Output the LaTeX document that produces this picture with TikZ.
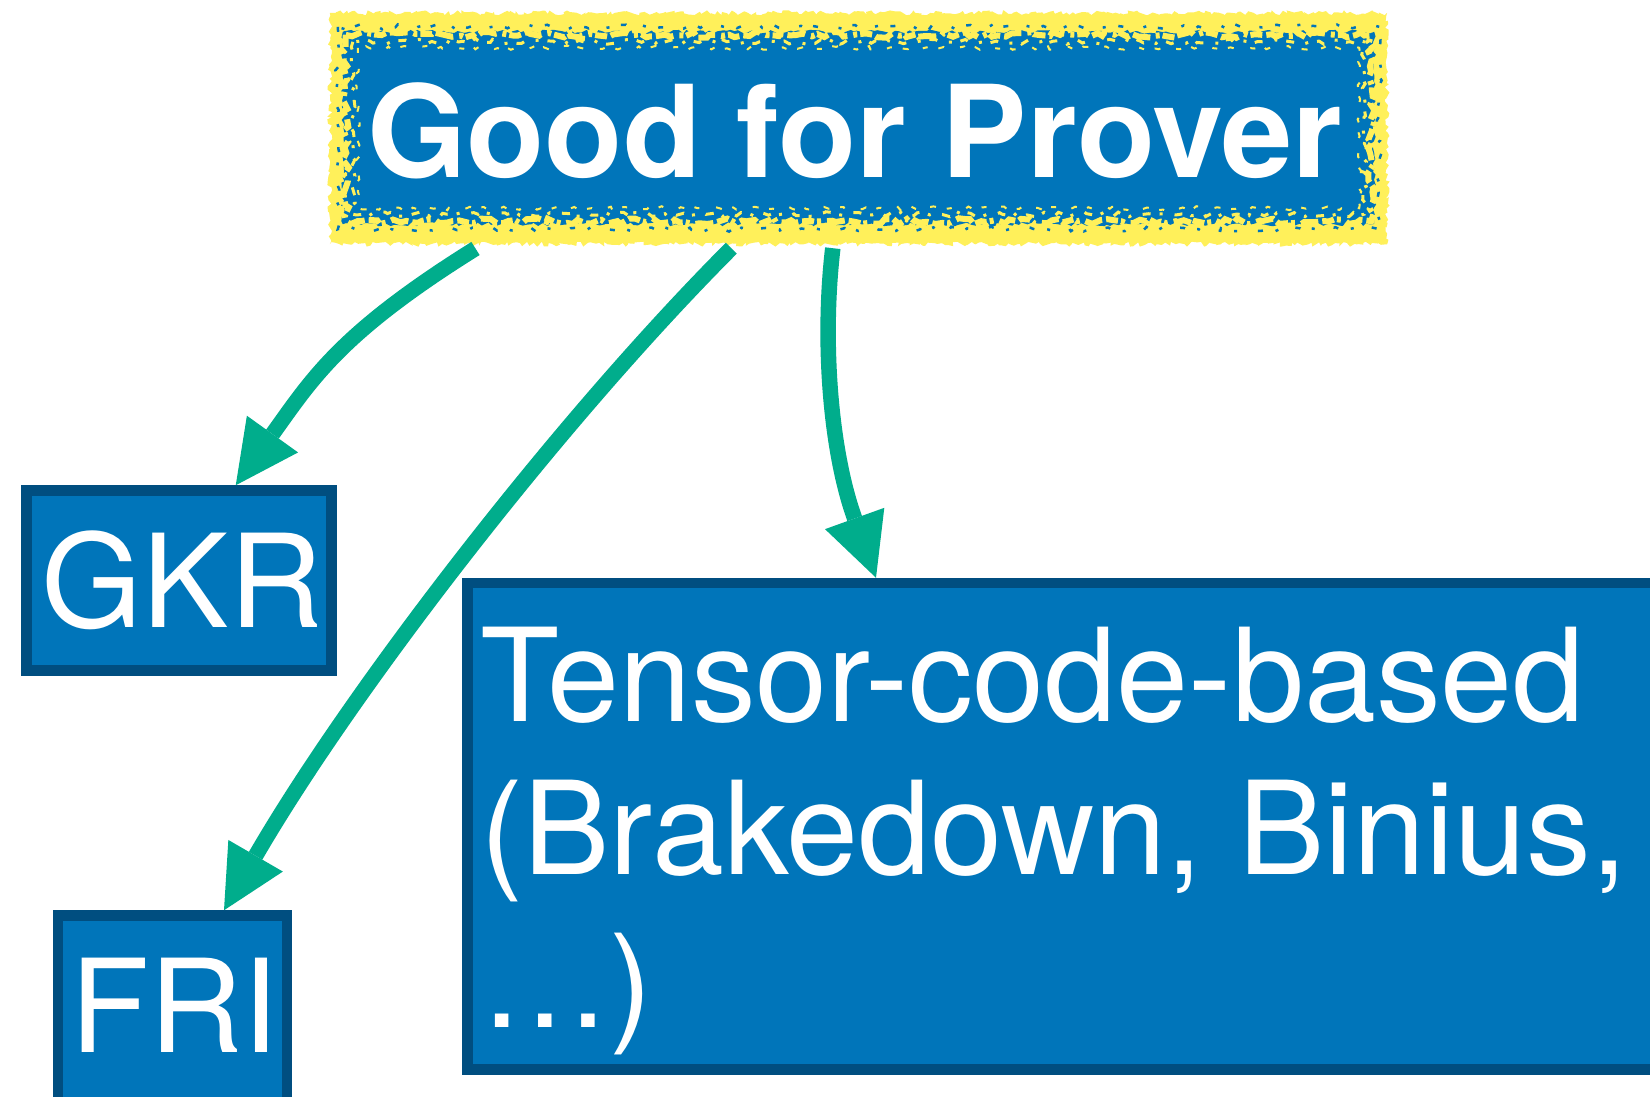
\documentclass[tikz,border=0pt]{standalone}
\usepackage{fontspec}
\setmainfont{TeX Gyre Heros}
\usetikzlibrary{arrows.meta,decorations.pathmorphing}

\definecolor{boxfill}{RGB}{0,117,186}
\definecolor{boxedge}{RGB}{0,78,128}
\definecolor{linkgreen}{RGB}{0,173,140}
\definecolor{marker}{RGB}{255,240,90}

\begin{document}
\begin{tikzpicture}[x=1pt,y=-1pt,
  box/.style={rectangle, draw=boxedge, fill=boxfill, line width=10.5pt, inner sep=0pt},
  headbox/.style={rectangle, inner sep=0pt, minimum width=1015pt, minimum height=180pt},
  txt/.style={text=white, inner sep=0pt, anchor=base west, font=\fontsize{129.5}{153}\selectfont},
  link/.style={draw=linkgreen, line width=15.5pt, -{Triangle[length=63pt,width=63pt,line width=0pt]}},
  rough/.style={decorate, decoration={random steps, segment length=#1, amplitude=#1/2}},
]
\pgfmathsetseed{7}
\clip (0,0) rectangle (1650,1096);
\fill[white] (0,0) rectangle (1650,1096);

% highlighted heading: yellow marker scribble round a blue box
\node[headbox] (gfp) at (858.5,128) {};
\fill[marker, decorate, decoration={random steps, segment length=3pt, amplitude=2.5pt}]
  ([shift={(-21,-25)}]gfp.north west) rectangle ([shift={(21,26)}]gfp.south east);
\fill[boxfill, rough=4pt] ([shift={(-8,-6)}]gfp.north west) rectangle ([shift={(8,6)}]gfp.south east);
\draw[marker, line width=6pt, rough=6pt, dash pattern=on 12pt off 3pt on 4pt off 6pt on 18pt off 4pt]
  ([shift={(-5,-3)}]gfp.north west) rectangle ([shift={(5,3)}]gfp.south east);
\draw[marker, line width=3pt, rough=5pt, dash pattern=on 8pt off 9pt on 3pt off 12pt]
  ([shift={(2,4)}]gfp.north west) rectangle ([shift={(-2,-4)}]gfp.south east);
\draw[marker, line width=2pt, rough=4pt, dash pattern=on 5pt off 17pt on 6pt off 11pt]
  ([shift={(7,10)}]gfp.north west) rectangle ([shift={(-7,-10)}]gfp.south east);
\draw[boxfill, line width=2.5pt, rough=5pt, dash pattern=on 5pt off 13pt on 3pt off 21pt]
  ([shift={(-13,-11)}]gfp.north west) rectangle ([shift={(13,11)}]gfp.south east);
\node[txt, font=\fontsize{128}{128}\selectfont\bfseries] (gfptext) at (367,177.5) {Good for Prover};

% target boxes (anchors sit on the outer edge of the thick border)
\node[box, minimum width=305pt, minimum height=180pt] (gkr) at (179,580.5) {};
\node[txt] (gkrtext) at (41.7,627.7) {GKR};

\node[box, minimum width=229pt, minimum height=234.5pt] (fri) at (172.5,1032.75) {};
\node[txt] (fritext) at (70,1052.7) {FRI};

\node[box, minimum width=1232.5pt, minimum height=486.5pt] (tensor) at (1083.75,826.25) {};
\node[txt, align=left] (tensortext) at (480,1027.4) {Tensor-code-based\\(Brakedown, Binius,\\…)};

% connectors
\draw[link] ([shift={(124.7,30.3)}]gfp.south west) .. controls (340,333) and (312,379) .. ([xshift=214.5]gkr.north west);
\draw[link] ([shift={(380.5,30)}]gfp.south west) .. controls (556,424) and (350,693) .. ([xshift=171.25]fri.north west);
\draw[link] ([shift={(482,30)}]gfp.south west) .. controls (822,340) and (830,450) .. ([xshift=413.75]tensor.north west);
\end{tikzpicture}
\end{document}
